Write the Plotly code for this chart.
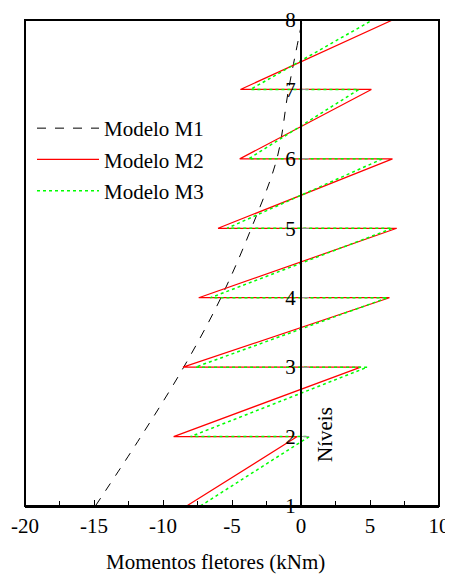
import plotly.graph_objects as go

# Data
niveis_m1 = [1, 2, 3, 4, 5, 6, 7, 8]
m1 = [-14.9, -11.6, -8.5, -5.8, -3.6, -1.75, -0.9, 0.1]

niveis_zz = [1, 2, 2, 3, 3, 4, 4, 5, 5, 6, 6, 7, 7, 8]
m2 = [-8.29, -0.27, -9.23, 4.33, -8.55, 6.41, -7.41, 6.94, -6.01, 6.63, -4.44, 5.10, -4.39, 6.63]
m3 = [-7.29, 0.60, -8.00, 4.81, -7.65, 6.27, -6.56, 6.63, -5.35, 5.90, -3.80, 4.20, -3.66, 5.18]

x_ticks = [-20, -15, -10, -5, 0, 5, 10]
x_ticktext = ["-20", "-15", "-10", "-5", "0", "5", "10"]
y_ticks = [1, 2, 3, 4, 5, 6, 7, 8]

FONT = "'Liberation Serif', 'Times New Roman', serif"

fig = go.Figure()
fig.add_trace(go.Scatter(x=m1, y=niveis_m1, mode="lines", name="Modelo M1",
                         line=dict(color="black", width=1, dash="dash", shape="spline"),
                         legendgroup="a"))
fig.add_trace(go.Scatter(x=m2, y=niveis_zz, mode="lines", name="Modelo M2",
                         line=dict(color="#ff0000", width=1.2), legendgroup="b"))
fig.add_trace(go.Scatter(x=m3, y=niveis_zz, mode="lines", name="Modelo M3",
                         line=dict(color="#00ff00", width=1.5, dash="dot"), legendgroup="c"))

# page has an 8px body margin: shift everything by 8px
OFF = 8
W, H = 453 - OFF, 575 - OFF
L, R, T, B = 25 - OFF, 14, 20 - OFF, 69
pw = W - L - R
ph = H - T - B

def px(xp):
    return (xp - OFF - L) / pw

def py(yp):
    return (H - B - (yp - OFF)) / ph

fig.update_layout(
    width=W, height=H,
    margin=dict(l=L, r=R, t=T, b=B, autoexpand=False),
    paper_bgcolor="white", plot_bgcolor="white",
    font=dict(family=FONT, size=21, color="black"),
    showlegend=True,
    legend=dict(x=px(32), y=py(108), xanchor="left", yanchor="top",
                bgcolor="rgba(0,0,0,0)", tracegroupgap=1, itemwidth=62,
                font=dict(family=FONT, size=21)),
    xaxis=dict(range=[-20, 10], tickvals=x_ticks, ticktext=x_ticktext,
               ticks="inside", ticklen=6, tickwidth=1, tickcolor="black",
               minor=dict(dtick=2.5, ticks="inside", ticklen=5, tickcolor="black"),
               showline=True, linecolor="black", linewidth=2,
               showgrid=False, zeroline=False, automargin=False,
               ticklabeloverflow="allow",
               tickfont=dict(family=FONT, size=21)),
    yaxis=dict(range=[1, 8], tickvals=y_ticks, anchor="free", position=20 / 30,
               side="left", ticks="inside", ticklen=7, tickcolor="#999999",
               showline=True, linecolor="black", linewidth=2,
               showgrid=False, zeroline=False, automargin=False,
               tickfont=dict(family=FONT, size=21)),
    shapes=[dict(type="rect", xref="paper", yref="paper", x0=0, x1=1, y0=0, y1=1,
                 line=dict(color="black", width=2), layer="above")],
    annotations=[
        dict(text="Momentos fletores (kNm)", xref="paper", yref="paper",
             x=px(215), y=py(562), xanchor="center", yanchor="middle",
             showarrow=False, font=dict(family=FONT, size=21)),
        dict(text="Níveis", xref="paper", yref="paper", textangle=-90,
             x=px(325), y=py(435), xanchor="center", yanchor="middle",
             showarrow=False, font=dict(family=FONT, size=21)),
    ],
)

fig.write_html("out.html")
